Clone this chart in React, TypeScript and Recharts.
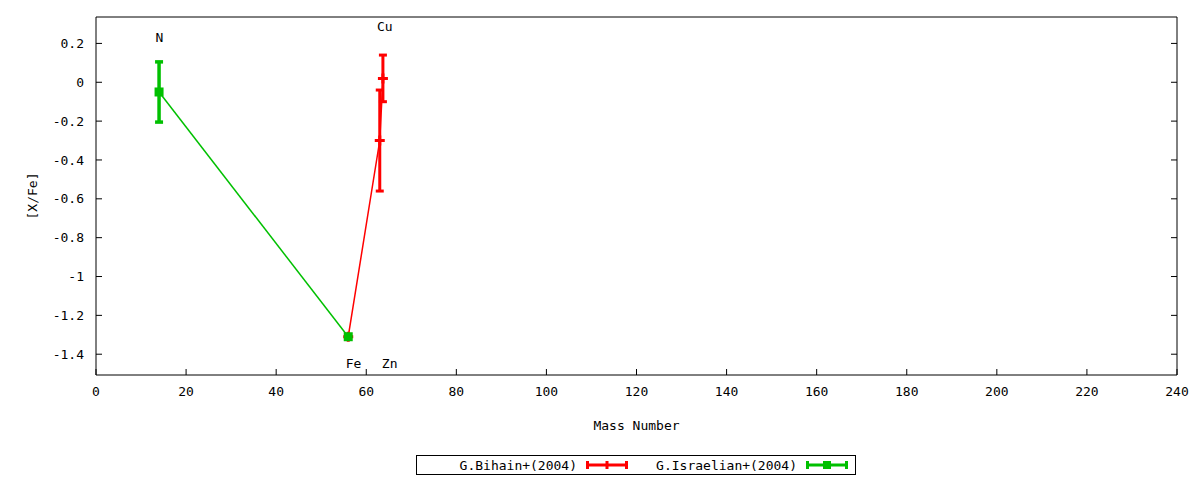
import React from 'react';
import {
  ComposedChart, Line, Scatter, XAxis, YAxis, ErrorBar,
} from 'recharts';

// chart values
const bihainMass = [56, 63, 63.7];
const bihainValue = [-1.31, -0.3, 0.02];
const bihainError = [0, 0.26, 0.12];

const israelianMass = [14, 56];
const israelianValue = [-0.05, -1.31];
const israelianError = [0.155, 0];

const elementNames = ['N', 'Fe', 'Cu', 'Zn'];
const elementLabelMass = [14.1, 57.2, 64.1, 65.2];
const elementLabelValue = [0.229, -1.45, 0.286, -1.45];

const xTicks = [0, 20, 40, 60, 80, 100, 120, 140, 160, 180, 200, 220, 240];
const yTicks = [0.2, 0, -0.2, -0.4, -0.6, -0.8, -1, -1.2, -1.4];

const RED = '#ff0000';
const GREEN = '#00c000';
const FONT = 'DejaVu Sans Mono';

if (typeof document !== 'undefined') document.body.style.margin = '0';

const bihainData = bihainMass.map((m, i) => ({ mass: m, value: bihainValue[i], err: bihainError[i] }));
const israelianData = israelianMass.map((m, i) => ({ mass: m, value: israelianValue[i], err: israelianError[i] }));
const labelData = elementNames.map((name, i) => ({ name, mass: elementLabelMass[i], value: elementLabelValue[i] }));

const tickStyle = { fill: '#000', fontSize: 13, fontFamily: FONT };

const PlusDot = (props: any) => {
  const { cx, cy, index } = props;
  if (cx == null || cy == null) return <g key={`p-${index}`} />;
  return (
    <path
      key={`p-${index}`}
      d={`M${cx - 5},${cy}H${cx + 5}M${cx},${cy - 5}V${cy + 5}`}
      stroke={RED}
      strokeWidth={3}
      fill="none"
    />
  );
};

const SquareDot = (props: any) => {
  const { cx, cy, index } = props;
  if (cx == null || cy == null) return <g key={`s-${index}`} />;
  return <rect key={`s-${index}`} x={cx - 4.5} y={cy - 4.5} width={9} height={9} fill={GREEN} />;
};

const ElementLabel = (props: any) => {
  const { cx, cy, payload } = props;
  return (
    <text x={cx} y={cy} textAnchor="middle" dominantBaseline="central" fontSize={13} fontFamily={FONT} fill="#000">
      {payload.name}
    </text>
  );
};

const YLabel = (props: any) => {
  const vb = props.viewBox;
  const cy = vb.y + vb.height / 2;
  return (
    <text x={32} y={cy} transform={`rotate(-90, 32, ${cy})`} textAnchor="middle" dominantBaseline="central" fontSize={13} fontFamily={FONT} fill="#000">
      [X/Fe]
    </text>
  );
};

const LegendBox = () => (
  <div style={{ position: 'absolute', left: 416, top: 455, width: 440, height: 20 }}>
    <svg width={440} height={20} style={{ display: 'block' }}>
      <rect x={0.5} y={0.5} width={439} height={19} fill="#fff" stroke="#000" />
      <text x={161} y={10} textAnchor="end" dominantBaseline="central" fontSize={13} fontFamily={FONT} fill="#000">
        G.Bihain+(2004)
      </text>
      <path d="M170,10H212M171.5,6V14M210.5,6V14M191,6V14" stroke={RED} strokeWidth={3} fill="none" />
      <text x={381} y={10} textAnchor="end" dominantBaseline="central" fontSize={13} fontFamily={FONT} fill="#000">
        G.Israelian+(2004)
      </text>
      <path d="M390,10H432M391.5,6V14M430.5,6V14M412,6V14" stroke={GREEN} strokeWidth={3} fill="none" />
      <rect x={407} y={6} width={8} height={8} fill={GREEN} />
    </svg>
  </div>
);

export default function App() {
  return (
    <div style={{ position: 'relative', width: 1200, height: 480, background: '#fff' }}>
      <ComposedChart width={1200} height={480} margin={{ top: 0, right: 0, bottom: 45, left: 0 }}>
        <XAxis
          xAxisId="b"
          dataKey="mass"
          type="number"
          domain={[0, 240]}
          ticks={xTicks}
          allowDataOverflow
          height={60}
          stroke="#000"
          tickSize={-6}
          tickMargin={18}
          tick={tickStyle}
          label={{ value: 'Mass Number', position: 'insideBottom', offset: 5, fill: '#000', fontSize: 13, fontFamily: FONT }}
        />
        <XAxis
          xAxisId="t"
          orientation="top"
          type="number"
          domain={[0, 240]}
          ticks={xTicks}
          allowDataOverflow
          height={17}
          stroke="#000"
          tickSize={-6}
          tickFormatter={() => ''}
        />
        <YAxis
          yAxisId="l"
          dataKey="value"
          type="number"
          domain={[-1.507, 0.336]}
          ticks={yTicks}
          allowDataOverflow
          width={96}
          stroke="#000"
          tickSize={-6}
          tickMargin={18}
          tick={tickStyle}
          label={<YLabel />}
        />
        <YAxis
          yAxisId="r"
          orientation="right"
          type="number"
          domain={[-1.507, 0.336]}
          ticks={yTicks}
          allowDataOverflow
          width={23}
          stroke="#000"
          tickSize={-6}
          tickFormatter={() => ''}
        />
        <Line
          xAxisId="b"
          yAxisId="l"
          data={bihainData}
          dataKey="value"
          type="linear"
          stroke={RED}
          strokeWidth={1.5}
          dot={PlusDot}
          activeDot={false}
          isAnimationActive={false}
        >
          <ErrorBar dataKey="err" direction="y" width={4} strokeWidth={3} stroke={RED} />
        </Line>
        <Line
          xAxisId="b"
          yAxisId="l"
          data={israelianData}
          dataKey="value"
          type="linear"
          stroke={GREEN}
          strokeWidth={1.5}
          dot={SquareDot}
          activeDot={false}
          isAnimationActive={false}
        >
          <ErrorBar dataKey="err" direction="y" width={4} strokeWidth={3.5} stroke={GREEN} />
        </Line>
        <Scatter
          xAxisId="b"
          yAxisId="l"
          data={labelData}
          dataKey="value"
          shape={ElementLabel}
          isAnimationActive={false}
        />
      </ComposedChart>
      <LegendBox />
    </div>
  );
}
